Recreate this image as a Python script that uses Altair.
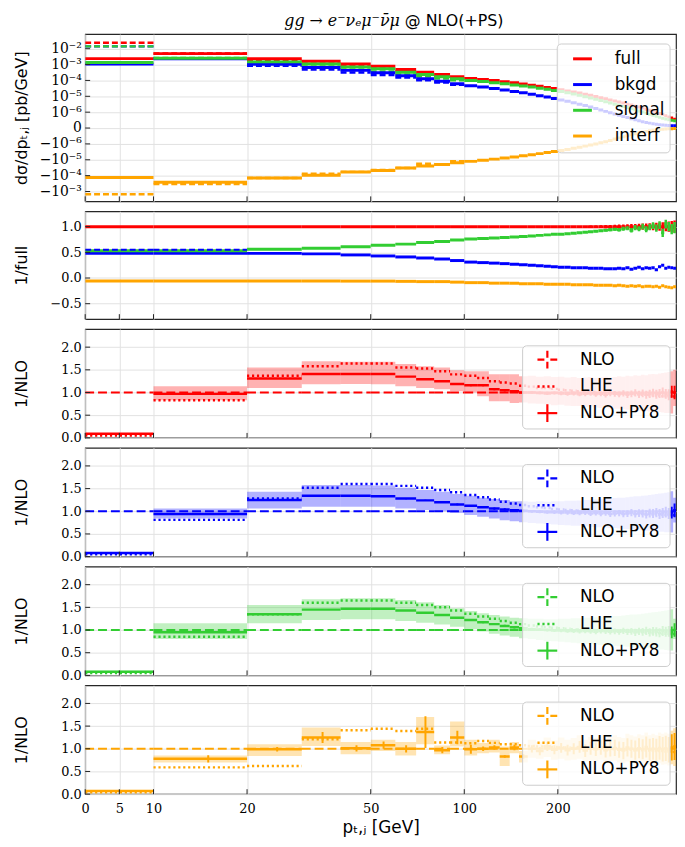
import math
import altair as alt
import pandas as pd

# ---------------- data ----------------
bin_lo = [0, 10, 20, 30, 40, 50, 60, 70, 80, 90,
          100, 110, 120, 130, 140, 150, 160, 170, 180, 190,
          200, 210, 220, 230, 240, 250, 260, 270, 280, 290,
          300, 310, 320, 330, 340, 350, 360, 370, 380, 390,
          400, 410, 420, 430, 440, 450, 460, 470]
BIN_W = 10
series_names = ["full", "bkgd", "signal", "interf"]
series_colors = ["#ff0000", "#0000ff", "#32cd32", "#ffa500"]

# panel 1: d sigma / d pT,j [pb/GeV]  (NLO+PY8)
full_py8 = [2.37e-3, 4.9e-3, 2.29e-3, 1.62e-3, 1.10e-3, 7.9e-4, 4.9e-4, 3.3e-4, 2.37e-4, 1.70e-4,
            1.35e-4, 1.15e-4, 9.8e-5, 8.3e-5, 7.1e-5, 5.9e-5, 5.0e-5, 4.3e-5, 3.6e-5, 3.1e-5,
            2.6e-5, 2.2e-5, 1.9e-5, 1.6e-5, 1.35e-5, 1.15e-5, 9.8e-6, 8.1e-6, 6.9e-6, 5.9e-6,
            5.0e-6, 4.4e-6, 3.8e-6, 3.2e-6, 2.8e-6, 2.4e-6, 2.1e-6, 1.8e-6, 1.55e-6, 1.32e-6,
            1.15e-6, 9.9e-7, 9.2e-7, 8.5e-7, 7.8e-7, 7.0e-7, 6.3e-7, 5.6e-7]
bkgd_py8 = [1.10e-3, 2.29e-3, 1.05e-3, 6.6e-4, 4.3e-4, 3.0e-4, 1.95e-4, 1.28e-4, 9.0e-5, 6.2e-5,
            4.6e-5, 3.8e-5, 3.1e-5, 2.5e-5, 2.0e-5, 1.65e-5, 1.35e-5, 1.1e-5, 9.0e-6, 7.3e-6,
            5.9e-6, 4.8e-6, 3.9e-6, 3.2e-6, 2.6e-6, 2.1e-6, 1.7e-6, 1.38e-6, 1.12e-6, 9.6e-7,
            8.8e-7, 8.0e-7, 7.3e-7, 6.6e-7, 5.9e-7, 5.2e-7, 4.6e-7, 4.0e-7, 3.5e-7, 3.1e-7,
            2.7e-7, 2.4e-7, 2.1e-7, 1.9e-7, 1.7e-7, 1.6e-7, 1.5e-7, 1.5e-7]
signal_py8 = [1.33e-3, 2.5e-3, 1.48e-3, 1.10e-3, 7.1e-4, 5.4e-4, 3.3e-4, 2.37e-4, 1.70e-4, 1.26e-4,
              1.0e-4, 8.5e-5, 7.2e-5, 6.2e-5, 5.2e-5, 4.5e-5, 3.8e-5, 3.2e-5, 2.75e-5, 2.3e-5,
              2.0e-5, 1.66e-5, 1.38e-5, 1.15e-5, 9.5e-6, 7.9e-6, 6.6e-6, 5.5e-6, 4.6e-6, 3.8e-6,
              3.2e-6, 2.7e-6, 2.3e-6, 1.95e-6, 1.66e-6, 1.41e-6, 1.2e-6, 1.02e-6, 9.4e-7, 8.7e-7,
              8.0e-7, 7.4e-7, 6.8e-7, 6.2e-7, 5.7e-7, 5.2e-7, 4.9e-7, 4.6e-7]
interf_py8 = [-1.33e-4, -2.63e-4, -1.41e-4, -9.5e-5, -5.9e-5, -4.7e-5, -3.3e-5, -2.5e-5, -2.0e-5, -1.55e-5,
              -1.26e-5, -1.07e-5, -9.1e-6, -7.8e-6, -6.6e-6, -5.6e-6, -4.8e-6, -4.1e-6, -3.5e-6, -3.0e-6,
              -2.6e-6, -2.24e-6, -1.9e-6, -1.62e-6, -1.38e-6, -1.17e-6, -1.0e-6, -9.3e-7, -8.6e-7, -7.8e-7,
              -6.9e-7, -6.2e-7, -5.5e-7, -4.8e-7, -4.2e-7, -3.6e-7, -3.0e-7, -2.5e-7, -2.1e-7, -1.7e-7,
              -1.4e-7, -1.2e-7, -1.0e-7, -8e-8, -6e-8, -5e-8, -4e-8, -3e-8]
# panel 1: fixed-order NLO (first bins)
full_nlo = [2.4e-2, 5.0e-3, 1.75e-3, 1.15e-3, 7.8e-4, 5.6e-4, 3.6e-4, 2.56e-4, 1.9e-4, 1.43e-4]
bkgd_nlo = [1.4e-2, 2.44e-3, 8.4e-4, 4.9e-4, 3.2e-4, 2.2e-4, 1.5e-4, 1.03e-4, 7.5e-5, 5.4e-5]
signal_nlo = [1.4e-2, 2.6e-3, 1.1e-3, 7.7e-4, 4.9e-4, 3.7e-4, 2.36e-4, 1.78e-4, 1.33e-4, 1.03e-4]
interf_nlo = [-1.5e-3, -3.4e-4, -1.42e-4, -7.6e-5, -5.8e-5, -4.4e-5, -3.3e-5, -1.8e-5, -2.06e-5, -1.24e-5]

# panel 2: ratio to full
r_full = [1.00, 1.00, 1.00, 1.00, 1.00, 1.00, 1.00, 1.00, 1.00, 1.00,
          1.00, 1.00, 1.00, 1.00, 1.00, 1.00, 1.00, 1.00, 1.00, 1.00,
          1.00, 1.00, 1.00, 1.00, 1.00, 1.00, 1.00, 1.00, 1.00, 1.00,
          1.00, 1.00, 1.00, 1.00, 1.00, 1.00, 1.00, 1.00, 1.00, 1.00,
          1.00, 1.00, 1.00, 1.00, 1.00, 1.00, 1.00, 1.00]
r_full_err = [0, 0, 0, 0, 0, 0, 0, 0, 0, 0,
              0, 0, 0, 0, 0, 0, 0, 0, 0, 0,
              0, 0, 0, 0.01, 0.015, 0.02, 0.02, 0.025, 0.03, 0.03,
              0.035, 0.04, 0.04, 0.045, 0.05, 0.05, 0.055, 0.06, 0.06, 0.065,
              0.07, 0.075, 0.08, 0.085, 0.09, 0.1, 0.11, 0.12]
r_bkgd = [0.48, 0.48, 0.48, 0.47, 0.45, 0.43, 0.41, 0.39, 0.37, 0.34,
          0.31, 0.30, 0.29, 0.28, 0.27, 0.26, 0.25, 0.24, 0.23, 0.22,
          0.21, 0.21, 0.20, 0.20, 0.20, 0.19, 0.19, 0.19, 0.18, 0.18,
          0.18, 0.19, 0.18, 0.20, 0.17, 0.19, 0.21, 0.18, 0.20, 0.19,
          0.20, 0.16, 0.22, 0.25, 0.19, 0.21, 0.20, 0.19]
r_signal = [0.53, 0.53, 0.56, 0.58, 0.61, 0.64, 0.66, 0.69, 0.71, 0.74,
            0.76, 0.77, 0.78, 0.79, 0.80, 0.81, 0.82, 0.83, 0.84, 0.85,
            0.85, 0.86, 0.87, 0.88, 0.89, 0.90, 0.91, 0.92, 0.93, 0.94,
            0.95, 0.94, 0.96, 0.97, 0.93, 0.98, 0.96, 1.00, 0.95, 0.99,
            1.02, 0.97, 1.03, 0.88, 1.05, 1.00, 0.95, 0.98]
r_signal_err = [0, 0, 0, 0, 0, 0, 0, 0, 0, 0,
                0, 0, 0, 0, 0, 0, 0, 0, 0, 0,
                0, 0, 0, 0.01, 0.01, 0.015, 0.02, 0.02, 0.025, 0.03,
                0.03, 0.035, 0.04, 0.04, 0.045, 0.05, 0.05, 0.055, 0.06, 0.06,
                0.065, 0.07, 0.075, 0.08, 0.085, 0.09, 0.1, 0.11]
r_interf = [-0.06, -0.06, -0.06, -0.06, -0.06, -0.06, -0.065, -0.07, -0.07, -0.08,
            -0.09, -0.09, -0.10, -0.10, -0.10, -0.11, -0.11, -0.11, -0.12, -0.12,
            -0.12, -0.12, -0.13, -0.13, -0.13, -0.13, -0.14, -0.14, -0.14, -0.14,
            -0.15, -0.14, -0.15, -0.16, -0.15, -0.16, -0.15, -0.17, -0.16, -0.16,
            -0.17, -0.16, -0.18, -0.15, -0.17, -0.18, -0.19, -0.17]
r_bkgd_nlo = [0.55, 0.55]

# panels 3-6: ratio to NLO  (NLO+PY8, LHE, band low/high, stat. error)
f_py8 = [0.09, 0.97, 1.31, 1.41, 1.41, 1.41, 1.35, 1.29, 1.25, 1.19,
         1.16, 1.16, 1.07, 1.05, 1.03, 1.00, 1.00, 0.99, 0.98, 0.99,
         0.98, 0.97, 0.98, 0.96, 0.97, 0.98, 0.96, 0.97, 0.95, 0.98,
         0.97, 0.96, 0.98, 0.95, 0.97, 0.99, 0.96, 0.98, 0.95, 0.97,
         0.99, 0.96, 0.98, 1.00, 0.97, 0.95, 1.02, 1.00]
f_lhe = [0.05, 0.83, 1.37, 1.58, 1.64, 1.64, 1.55, 1.53, 1.47, 1.40,
         1.37, 1.32, 1.25, 1.22, 1.20, 1.15, 1.13, 1.10, 1.10, 1.08,
         1.06, 1.05, 1.04, 1.03, 1.03, 1.02, 1.01, 1.00, 1.00, 0.99,
         0.99, 0.98, 0.98, 0.97, 0.97, 0.96, 0.96, 0.95, 0.95, 0.94,
         0.94, 0.93, 0.93, 0.92, 0.92, 0.92, 0.91, 0.91]
f_lo = [0.07, 0.83, 1.10, 1.18, 1.19, 1.18, 1.14, 1.10, 1.07, 1.03,
        1.00, 0.92, 0.81, 0.81, 0.77, 0.78, 0.76, 0.75, 0.74, 0.72,
        0.73, 0.71, 0.70, 0.70, 0.68, 0.69, 0.67, 0.66, 0.66, 0.65,
        0.64, 0.64, 0.63, 0.62, 0.62, 0.61, 0.60, 0.60, 0.59, 0.58,
        0.58, 0.57, 0.57, 0.56, 0.55, 0.55, 0.54, 0.70]
f_hi = [0.11, 1.14, 1.55, 1.69, 1.68, 1.68, 1.63, 1.58, 1.55, 1.49,
        1.47, 1.47, 1.40, 1.40, 1.40, 1.36, 1.37, 1.35, 1.36, 1.34,
        1.35, 1.33, 1.34, 1.32, 1.33, 1.34, 1.32, 1.33, 1.35, 1.33,
        1.34, 1.36, 1.35, 1.37, 1.36, 1.38, 1.37, 1.39, 1.38, 1.40,
        1.41, 1.40, 1.42, 1.43, 1.44, 1.45, 1.47, 1.50]
f_err = [0.005, 0.01, 0.01, 0.01, 0.01, 0.01, 0.01, 0.01, 0.015, 0.015,
         0.02, 0.02, 0.02, 0.025, 0.025, 0.03, 0.03, 0.03, 0.035, 0.035,
         0.04, 0.04, 0.045, 0.045, 0.05, 0.05, 0.055, 0.055, 0.06, 0.06,
         0.065, 0.065, 0.07, 0.07, 0.075, 0.08, 0.08, 0.085, 0.09, 0.09,
         0.095, 0.1, 0.1, 0.11, 0.11, 0.12, 0.13, 0.15]

b_py8 = [0.08, 0.94, 1.25, 1.34, 1.34, 1.33, 1.28, 1.24, 1.20, 1.15,
         1.12, 1.09, 1.06, 1.04, 1.02, 1.01, 1.00, 0.99, 0.98, 0.98,
         0.97, 0.97, 0.96, 0.96, 0.97, 0.95, 0.96, 0.95, 0.96, 0.94,
         0.95, 0.96, 0.94, 0.95, 0.97, 0.94, 0.96, 0.95, 0.93, 0.96,
         0.95, 0.97, 0.94, 0.96, 0.98, 0.95, 0.97, 1.02]
b_lhe = [0.05, 0.81, 1.28, 1.52, 1.60, 1.60, 1.56, 1.52, 1.47, 1.42,
         1.36, 1.31, 1.26, 1.21, 1.17, 1.14, 1.11, 1.09, 1.07, 1.05,
         1.04, 1.03, 1.02, 1.01, 1.00, 1.00, 0.99, 0.99, 0.98, 0.98,
         0.97, 0.97, 0.96, 0.96, 0.96, 0.95, 0.95, 0.94, 0.94, 0.94,
         0.93, 0.93, 0.93, 0.92, 0.92, 0.92, 0.91, 0.91]
b_lo = [0.07, 0.84, 1.06, 1.10, 1.10, 1.10, 1.06, 1.03, 1.00, 0.96,
        0.92, 0.88, 0.84, 0.80, 0.78, 0.76, 0.74, 0.73, 0.72, 0.71,
        0.70, 0.69, 0.68, 0.68, 0.67, 0.66, 0.65, 0.65, 0.64, 0.63,
        0.63, 0.62, 0.61, 0.61, 0.60, 0.59, 0.59, 0.58, 0.57, 0.57,
        0.56, 0.56, 0.55, 0.55, 0.54, 0.54, 0.53, 0.75]
b_hi = [0.10, 1.06, 1.43, 1.58, 1.58, 1.57, 1.52, 1.47, 1.43, 1.38,
        1.34, 1.30, 1.27, 1.25, 1.22, 1.22, 1.21, 1.22, 1.21, 1.22,
        1.22, 1.23, 1.23, 1.24, 1.25, 1.25, 1.26, 1.27, 1.27, 1.28,
        1.29, 1.30, 1.30, 1.31, 1.32, 1.33, 1.33, 1.34, 1.35, 1.36,
        1.37, 1.38, 1.39, 1.40, 1.41, 1.42, 1.44, 1.30]
b_err = [0.005, 0.01, 0.01, 0.01, 0.01, 0.01, 0.015, 0.015, 0.015, 0.02,
         0.02, 0.02, 0.025, 0.025, 0.03, 0.03, 0.03, 0.035, 0.035, 0.04,
         0.04, 0.045, 0.045, 0.05, 0.05, 0.055, 0.055, 0.06, 0.06, 0.065,
         0.065, 0.07, 0.07, 0.075, 0.08, 0.08, 0.085, 0.09, 0.09, 0.095,
         0.1, 0.1, 0.11, 0.11, 0.12, 0.12, 0.13, 0.15]

s_py8 = [0.08, 0.95, 1.35, 1.45, 1.47, 1.47, 1.43, 1.38, 1.33, 1.27,
         1.22, 1.17, 1.13, 1.09, 1.06, 1.04, 1.02, 1.01, 1.00, 0.99,
         0.99, 0.98, 0.98, 0.97, 0.98, 0.97, 0.96, 0.98, 0.97, 0.96,
         0.97, 0.96, 0.98, 0.96, 0.97, 0.95, 0.97, 0.96, 0.98, 0.95,
         0.97, 0.96, 0.94, 0.98, 0.96, 0.97, 0.95, 1.00]
s_lhe = [0.05, 0.85, 1.35, 1.60, 1.65, 1.65, 1.60, 1.55, 1.50, 1.43,
         1.36, 1.30, 1.25, 1.20, 1.16, 1.13, 1.10, 1.08, 1.06, 1.05,
         1.04, 1.03, 1.02, 1.01, 1.01, 1.00, 1.00, 0.99, 0.99, 0.98,
         0.98, 0.97, 0.97, 0.96, 0.96, 0.95, 0.95, 0.95, 0.94, 0.94,
         0.93, 0.93, 0.93, 0.92, 0.92, 0.92, 0.91, 0.91]
s_lo = [0.07, 0.80, 1.15, 1.22, 1.24, 1.24, 1.20, 1.16, 1.12, 1.07,
        1.02, 0.97, 0.92, 0.88, 0.85, 0.82, 0.80, 0.78, 0.76, 0.75,
        0.74, 0.73, 0.72, 0.71, 0.70, 0.69, 0.68, 0.67, 0.67, 0.66,
        0.65, 0.64, 0.64, 0.63, 0.62, 0.62, 0.61, 0.60, 0.60, 0.59,
        0.58, 0.58, 0.57, 0.57, 0.56, 0.55, 0.55, 0.80]
s_hi = [0.10, 1.15, 1.55, 1.68, 1.70, 1.70, 1.66, 1.61, 1.55, 1.48,
        1.42, 1.37, 1.33, 1.30, 1.27, 1.26, 1.25, 1.25, 1.24, 1.24,
        1.25, 1.25, 1.26, 1.26, 1.27, 1.27, 1.28, 1.29, 1.29, 1.30,
        1.31, 1.31, 1.32, 1.33, 1.34, 1.34, 1.35, 1.36, 1.37, 1.38,
        1.39, 1.40, 1.41, 1.42, 1.43, 1.44, 1.46, 1.25]
s_err = [0.005, 0.01, 0.01, 0.01, 0.01, 0.01, 0.01, 0.01, 0.015, 0.015,
         0.02, 0.02, 0.02, 0.025, 0.025, 0.03, 0.03, 0.03, 0.035, 0.035,
         0.04, 0.04, 0.045, 0.045, 0.05, 0.05, 0.055, 0.055, 0.06, 0.06,
         0.065, 0.065, 0.07, 0.07, 0.075, 0.08, 0.08, 0.085, 0.09, 0.09,
         0.095, 0.1, 0.1, 0.11, 0.11, 0.12, 0.13, 0.15]

i_py8 = [0.07, 0.78, 0.99, 1.25, 1.01, 1.08, 1.00, 1.37, 0.97, 1.25,
         0.99, 1.00, 1.03, 0.83, 1.03, 0.83, 1.00, 0.95, 1.05, 0.98,
         1.02, 0.97, 1.00, 1.04, 0.96, 1.01, 0.99, 1.03, 0.97, 1.00,
         1.02, 0.98, 0.96, 1.03, 1.00, 0.97, 1.01, 0.99, 1.04, 0.98,
         1.00, 0.97, 1.02, 0.99, 1.01, 0.98, 1.03, 1.05]
i_lhe = [0.04, 0.59, 0.62, 1.21, 1.41, 1.44, 1.39, 1.44, 1.14, 1.14,
         1.12, 1.17, 1.13, 1.10, 1.10, 1.08, 1.06, 1.05, 1.05, 1.04,
         1.03, 1.03, 1.02, 1.02, 1.01, 1.01, 1.00, 1.00, 1.00, 0.99,
         0.99, 0.99, 0.98, 0.98, 0.98, 0.97, 0.97, 0.97, 0.96, 0.96,
         0.96, 0.95, 0.95, 0.95, 0.94, 0.94, 0.94, 0.93]
i_lo = [0.06, 0.70, 0.84, 1.06, 0.88, 0.95, 0.85, 1.10, 0.88, 1.05,
        0.85, 0.90, 0.92, 0.62, 0.90, 0.70, 0.80, 0.78, 0.82, 0.76,
        0.78, 0.74, 0.76, 0.78, 0.72, 0.75, 0.73, 0.76, 0.70, 0.72,
        0.74, 0.70, 0.68, 0.72, 0.70, 0.67, 0.70, 0.68, 0.71, 0.66,
        0.68, 0.64, 0.68, 0.65, 0.66, 0.63, 0.66, 0.62]
i_hi = [0.09, 0.85, 1.10, 1.47, 1.15, 1.20, 1.15, 1.70, 1.07, 1.60,
        1.20, 1.13, 1.20, 1.05, 1.15, 0.95, 1.20, 1.15, 1.25, 1.18,
        1.25, 1.20, 1.24, 1.30, 1.20, 1.26, 1.24, 1.30, 1.22, 1.27,
        1.30, 1.26, 1.24, 1.33, 1.30, 1.27, 1.32, 1.30, 1.36, 1.30,
        1.33, 1.30, 1.36, 1.33, 1.36, 1.33, 1.40, 1.45]
i_err = [0.01, 0.08, 0.05, 0.12, 0.07, 0.08, 0.08, 0.35, 0.07, 0.15,
         0.10, 0.05, 0.05, 0.03, 0.06, 0.05, 0.08, 0.09, 0.10, 0.10,
         0.11, 0.12, 0.12, 0.13, 0.14, 0.14, 0.15, 0.16, 0.16, 0.17,
         0.18, 0.18, 0.19, 0.20, 0.20, 0.21, 0.22, 0.22, 0.23, 0.24,
         0.24, 0.25, 0.26, 0.27, 0.28, 0.28, 0.29, 0.30]

x_tick_values = [0, 5, 10, 20, 50, 100, 200]

# ---------------- helpers ----------------
W = 597
K = 45.5          # units per decade above 10 GeV (linear 0..10 below)
X_MAX = 86.5
SANS = "DejaVu Sans"
SERIF = "DejaVu Serif"
dummy = pd.DataFrame({"k": [0]})


def xexpr(f):
    return f"(({f}) <= 10 ? ({f}) : 10 + {K}*log(({f})/10)/LN10)"


CALC = dict(xl=xexpr("datum.lo"), xh=xexpr("datum.hi"), xc=xexpr("(datum.lo+datum.hi)/2"))
XT = [v if v <= 10 else 10 + K * math.log10(v / 10) for v in x_tick_values]
xscale = alt.Scale(domain=[0, X_MAX], nice=False, zero=False)
XLABEL = f"datum.value <= 10.01 ? format(datum.value, 'd') : format(round(10*pow(10,(datum.value-10)/{K})), 'd')"


def xaxis(bottom):
    if bottom:
        return alt.Axis(values=XT, labelExpr=XLABEL, title="pₜ,ⱼ [GeV]", grid=True,
                        labelPadding=9, titlePadding=4, titleFontSize=17, labelFlush=False)
    return alt.Axis(values=XT, labels=False, title=None, grid=True)


def X(f, bottom=False):
    return alt.X(f, type="quantitative", scale=xscale, axis=xaxis(bottom))


def bins_df(values, series="", err=None):
    n = len(values)
    return pd.DataFrame({"lo": bin_lo[:n], "hi": [b + BIN_W for b in bin_lo[:n]],
                         "v": values, "err": err if err is not None else [0.0] * n,
                         "series": series})


cscale = alt.Scale(domain=series_names, range=series_colors)
COLOR = alt.Color("series:N", scale=cscale, legend=None)


def vrule(x, y1, y2, color, width=2.5, dash=None):
    kw = dict(color=color, strokeWidth=width)
    if dash:
        kw["strokeDash"] = dash
    return alt.Chart(dummy).mark_rule(**kw).encode(x=alt.value(x), y=alt.value(y1), y2=alt.value(y2))


def hrule(x1, x2, y, color, width=2.5, dash=None):
    kw = dict(color=color, strokeWidth=width)
    if dash:
        kw["strokeDash"] = dash
    return alt.Chart(dummy).mark_rule(**kw).encode(x=alt.value(x1), x2=alt.value(x2), y=alt.value(y))


def label(x, y, t, size=17, font=SANS, align="left", style="normal"):
    return alt.Chart(dummy).mark_text(align=align, baseline="middle", font=font, fontSize=size,
                                      fontStyle=style, color="black").encode(
        x=alt.value(x), y=alt.value(y), text=alt.value(t))


def box(x1, x2, y1, y2):
    return alt.Chart(dummy).mark_rect(fill="white", fillOpacity=0.8, stroke="#cccccc", strokeWidth=1,
                                      cornerRadius=4).encode(x=alt.value(x1), x2=alt.value(x2),
                                                             y=alt.value(y1), y2=alt.value(y2))


def inward_ticks(h, y_values, Y, bottom=False):
    xt = alt.Chart(pd.DataFrame({"lo": x_tick_values, "hi": x_tick_values})).transform_calculate(**CALC) \
        .mark_rule(color="#222", strokeWidth=1).encode(x=X("xl", bottom), y=alt.value(h), y2=alt.value(h - 5))
    yt = alt.Chart(pd.DataFrame({"v": y_values})).mark_rule(color="#222", strokeWidth=1) \
        .encode(y=Y("v"), x=alt.value(0), x2=alt.value(5))
    return [xt, yt]


# ---------------- panel 1 ----------------
H1 = 169
UEXPR = ("abs(datum.v) <= 1e-6 ? datum.v/1e-6 : (datum.v < 0 ? -1 : 1)*(log(abs(datum.v)/1e-6)/LN10 + 1)")
u_ticks = [5, 4, 3, 2, 1, 0, -1, -2, -3, -4]
u_labels = ["10⁻²", "10⁻³", "10⁻⁴", "10⁻⁵", "10⁻⁶", "0", "−10⁻⁶", "−10⁻⁵", "−10⁻⁴", "−10⁻³"]
ULABEL = " : ".join(f"datum.value == {k} ? '{t}'" for k, t in zip(u_ticks, u_labels)) + " : ''"
y1scale = alt.Scale(domain=[-4.62, 5.92], nice=False, zero=False)
y1axis = alt.Axis(values=u_ticks, labelExpr=ULABEL, title="dσ/dpₜ,ⱼ [pb/GeV]", grid=True,
                  titleX=-64, titleY=H1 / 2, titleBaseline="middle", titleAngle=270, labelFontSize=14)


def Y1(f):
    return alt.Y(f, type="quantitative", scale=y1scale, axis=y1axis)


df1 = pd.concat([bins_df(full_py8, "full"), bins_df(bkgd_py8, "bkgd"),
                 bins_df(signal_py8, "signal"), bins_df(interf_py8, "interf")], ignore_index=True)
df1n = pd.concat([bins_df(full_nlo, "full"), bins_df(bkgd_nlo, "bkgd"),
                  bins_df(signal_nlo, "signal"), bins_df(interf_nlo, "interf")], ignore_index=True)

p1_nlo = alt.Chart(df1n).transform_calculate(**CALC).transform_calculate(u=UEXPR) \
    .mark_rule(strokeWidth=2.5, strokeDash=[6, 3], clip=True) \
    .encode(x=X("xl"), x2="xh:Q", y=Y1("u"), color=COLOR)
p1_py8 = alt.Chart(df1).transform_calculate(**CALC).transform_calculate(u=UEXPR) \
    .mark_rule(strokeWidth=3, clip=True) \
    .encode(x=X("xl"), x2="xh:Q", y=Y1("u"), color=COLOR)

leg1 = [box(477, 591, 10, 120)]
for i, (nm, col) in enumerate(zip(series_names, series_colors)):
    yy = 25 + 26 * i
    leg1.append(hrule(493, 512, yy, col, width=3))
    leg1.append(label(535, yy, nm))

title_parts = [label(318, -13, "gg → e⁻νₑμ⁻ν̄μ", size=16, font=SERIF, align="right", style="italic"),
               label(323, -13, "@ NLO(+PS)", size=16)]

p1 = alt.layer(p1_nlo, p1_py8, *inward_ticks(H1, u_ticks, Y1), *leg1, *title_parts).properties(
    width=W, height=H1)

# ---------------- panel 2 ----------------
H2 = 109
y2scale = alt.Scale(domain=[-0.8, 1.3], nice=False, zero=False)
y2_ticks = [-0.5, 0.0, 0.5, 1.0]
y2axis = alt.Axis(values=y2_ticks, format=".1f", title="1/full", grid=True,
                  titleX=-64, titleY=H2 / 2, titleBaseline="middle", titleAngle=270)


def Y2(f):
    return alt.Y(f, type="quantitative", scale=y2scale, axis=y2axis)


df2 = pd.concat([bins_df(r_full, "full", r_full_err), bins_df(r_bkgd, "bkgd"),
                 bins_df(r_signal, "signal", r_signal_err), bins_df(r_interf, "interf")],
                ignore_index=True)
base2 = alt.Chart(df2).transform_calculate(**CALC).transform_calculate(
    elo="datum.v - datum.err", ehi="datum.v + datum.err")
p2_lines = base2.mark_rule(strokeWidth=3, clip=True).encode(x=X("xl"), x2="xh:Q", y=Y2("v"), color=COLOR)
p2_err = base2.transform_filter("datum.err > 0").mark_rule(strokeWidth=2.5, clip=True) \
    .encode(x=X("xc"), y=Y2("elo"), y2="ehi:Q", color=COLOR)
p2_nlo = alt.Chart(bins_df(r_bkgd_nlo, "bkgd")).transform_calculate(**CALC) \
    .mark_rule(strokeWidth=2, strokeDash=[6, 3], clip=True) \
    .encode(x=X("xl"), x2="xh:Q", y=Y2("v"), color=COLOR)

p2 = alt.layer(p2_lines, p2_err, p2_nlo, *inward_ticks(H2, y2_ticks, Y2)).properties(width=W, height=H2)


# ---------------- panels 3-6 ----------------
H3 = 110
y3scale = alt.Scale(domain=[0, 2.4], nice=False, zero=False)
y3_ticks = [0.0, 0.5, 1.0, 1.5, 2.0]


def ratio_panel(color, py8, lhe, lo, hi, err, bottom=False):
    yax = alt.Axis(values=y3_ticks, format=".1f", title="1/NLO", grid=True,
                   titleX=-64, titleY=H3 / 2, titleBaseline="middle", titleAngle=270)

    def Y(f):
        return alt.Y(f, type="quantitative", scale=y3scale, axis=yax)

    df = pd.DataFrame({"lo": bin_lo, "hi": [b + BIN_W for b in bin_lo], "py8": py8, "lhe": lhe,
                       "blo": lo, "bhi": hi, "err": err})
    base = alt.Chart(df).transform_calculate(**CALC).transform_calculate(
        elo="datum.py8 - datum.err", ehi="datum.py8 + datum.err", one="1")
    band = base.mark_rect(color=color, opacity=0.3, clip=True).encode(
        x=X("xl", bottom), x2="xh:Q", y=Y("blo"), y2="bhi:Q")
    nlo = base.mark_rule(color=color, strokeWidth=2.2, strokeDash=[9, 4], clip=True).encode(
        x=X("xl", bottom), x2="xh:Q", y=Y("one"))
    lhe_l = base.mark_rule(color=color, strokeWidth=2.5, strokeDash=[2.2, 2.8], clip=True).encode(
        x=X("xl", bottom), x2="xh:Q", y=Y("lhe"))
    py8_l = base.mark_rule(color=color, strokeWidth=2.5, clip=True).encode(
        x=X("xl", bottom), x2="xh:Q", y=Y("py8"))
    py8_e = base.mark_rule(color=color, strokeWidth=2, clip=True).encode(
        x=X("xc", bottom), y=Y("elo"), y2="ehi:Q")
    leg = [box(442, 591, 17, 101),
           hrule(457, 477, 31, color, 2.2, [7, 6]), vrule(467, 22, 40, color, 2.2, [7, 4]),
           label(500, 31, "NLO"),
           hrule(457, 477, 58, color, 2.5, [2.2, 2.8]),
           label(500, 58, "LHE"),
           hrule(457, 477, 85, color, 2.2), vrule(467, 76, 94, color, 2.2),
           label(500, 85, "NLO+PY8")]
    return alt.layer(band, nlo, lhe_l, py8_l, py8_e, *inward_ticks(H3, y3_ticks, Y, bottom), *leg).properties(
        width=W, height=H3)


p3 = ratio_panel(series_colors[0], f_py8, f_lhe, f_lo, f_hi, f_err)
p4 = ratio_panel(series_colors[1], b_py8, b_lhe, b_lo, b_hi, b_err)
p5 = ratio_panel(series_colors[2], s_py8, s_lhe, s_lo, s_hi, s_err)
p6 = ratio_panel(series_colors[3], i_py8, i_lhe, i_lo, i_hi, i_err, bottom=True)

chart = alt.vconcat(p1, p2, p3, p4, p5, p6, spacing=10, bounds="flush").properties(
    padding={"left": 5, "right": 0, "top": 0, "bottom": 2}
).configure_view(stroke="#262626", strokeWidth=1.2).configure_axis(
    domain=False, ticks=False, gridColor="#e2e2e2", gridWidth=1,
    labelFont=SERIF, labelFontSize=13, labelColor="black", labelPadding=4,
    titleFont=SANS, titleFontSize=16, titleFontWeight="normal", titleColor="black"
)

chart.save("out.html", embed_options={"renderer": "svg", "actions": False})
